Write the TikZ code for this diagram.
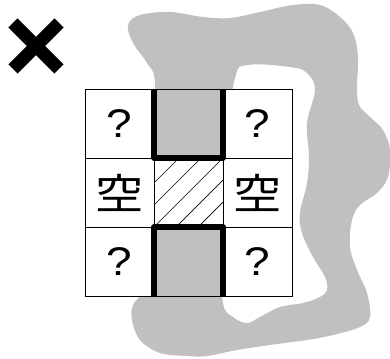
\documentclass[tikz,border=0pt]{standalone}
\usepackage{fontspec}
\usepackage{tikz}
\usetikzlibrary{calc}
\newfontfamily\cjkfont{Noto Sans CJK JP}
\newfontfamily\qfont{Liberation Sans}
\definecolor{blobgray}{RGB}{192,192,192}
\newcommand{\wide}[1]{\scalebox{1.15}[1]{#1}}

\begin{document}
\begin{tikzpicture}[x=1pt, y=-1pt,
  cell/.style={draw, fill=white, line width=0.8pt, minimum size=69pt, inner sep=0pt, outer sep=0pt},
  qcell/.style={cell, font=\qfont\fontsize{40}{40}\selectfont},
  kcell/.style={cell, font=\cjkfont\fontsize{42}{42}\selectfont},
  gcell/.style={cell, fill=blobgray},
  wall/.style={line width=5.5pt, line join=round},
  hatch/.style={line width=0.7pt},
  cross/.style={line width=13pt}]
\useasboundingbox (0,0) rectangle (390,358);
% grey region with a hole
\fill[blobgray, even odd rule]
  plot[smooth cycle, tension=0.6] coordinates {(128,25) (140,15) (170,12) (203,17) (230,18) (260,12)
    (293,5) (320,5) (340,17) (353,33) (358,57) (357,87) (359,105) (370,117) (383,130) (390,150)
    (388,177) (377,193) (360,205) (352,220) (350,247) (357,270) (367,293) (370,317) (360,327)
    (333,335) (307,340) (270,345) (237,350) (207,356) (187,356) (160,353) (140,340) (132,320)
    (133,305) (143,290) (150,250) (152,150) (155,83) (147,63) (133,43)}
  plot[smooth cycle, tension=0.6] coordinates {(248,65) (290,67) (307,73) (315,90) (307,123)
    (309,157) (307,183) (300,213) (302,233) (313,257) (325,277) (327,290) (320,297) (303,303)
    (280,307) (260,317) (247,323) (233,317) (223,303) (222,250) (225,150) (235,78)};
% cross mark
\draw[cross] (13,23) -- (59,69);
\draw[cross] (59,23) -- (13,69);
% grid
\node[qcell] (tl) at (119.5,123.5) {\wide{?}};
\node[gcell] (top) at (188.5,123.5) {};
\node[qcell] (tr) at (257.5,123.5) {\wide{?}};
\node[kcell] (ml) at (119.5,192.5) {\wide{空}};
\node[cell] (mid) at (188.5,192.5) {};
\node[kcell] (mr) at (257.5,192.5) {\wide{空}};
\node[qcell] (bl) at (119.5,261.5) {\wide{?}};
\node[gcell] (bot) at (188.5,261.5) {};
\node[qcell] (br) at (257.5,261.5) {\wide{?}};
\begin{scope}
  \clip (mid.north west) rectangle (mid.south east);
  \foreach \d in {-44,-22,0,22,44}
    \draw[hatch] ($(mid)+(\d/2-50,\d/2+50)$) -- ($(mid)+(\d/2+50,\d/2-50)$);
\end{scope}
\draw[wall] (top.north west) -- (top.south west) -- (top.south east) -- (top.north east);
\draw[wall] (bot.south west) -- (bot.north west) -- (bot.north east) -- (bot.south east);
\end{tikzpicture}
\end{document}
